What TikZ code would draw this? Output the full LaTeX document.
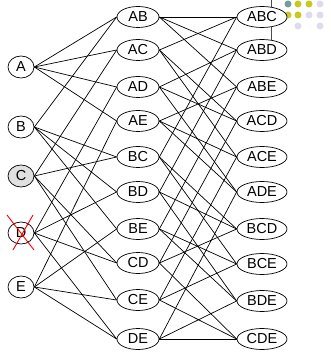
\documentclass[tikz,border=0pt]{standalone}
\usepackage{fontspec}
\setmainfont{Liberation Sans}
\usetikzlibrary{shapes.geometric}
\definecolor{dteal}{HTML}{6F9E9B}
\definecolor{dyel}{HTML}{C8C81E}
\definecolor{dlav}{HTML}{DCDCEE}
\definecolor{cgrey}{HTML}{E0E0E0}
\begin{document}
\begin{tikzpicture}[x=1pt,y=-1pt,
  base/.style={ellipse,draw,line width=0.7pt,inner sep=0pt,font=\fontsize{14.5}{14.5}\selectfont,fill=white},
  lnode/.style={base,minimum width=26pt,minimum height=22pt},
  mnode/.style={base,minimum width=42pt,minimum height=21pt},
  rnode/.style={base,minimum width=50pt,minimum height=21pt},
  edge/.style={line width=0.7pt},
  dot/.style={circle,inner sep=0pt,minimum size=7pt}]
\useasboundingbox (0,0) rectangle (330,352);
% decoration top right
\coordinate (v0) at (271,0);
\node[dot,fill=dteal] (d1) at (288,4) {};
\node[dot,fill=dyel] (d2) at (298,4) {};
\node[dot,fill=dyel] (d3) at (309,4) {};
\node[dot,fill=dlav] (d4) at (320,4) {};
\node[dot,fill=dyel] (d5) at (288,15) {};
\node[dot,fill=dyel] (d6) at (298,15) {};
\node[dot,fill=dlav] (d7) at (309,15) {};
\node[dot,fill=dlav] (d8) at (320,15) {};
\node[dot,fill=dlav] (d9) at (298,26) {};
\node[dot,fill=dlav] (d10) at (320,26) {};
\draw[line width=0.7pt,black!70] (v0) -- (271,50);
% edges first
\foreach \n/\y in {A/67,B/127,C/176,D/233,E/287} \coordinate (\n) at (21,\y);
\foreach \n/\y in {AB/17,AC/50,AD/87,AE/121,BC/157,BD/192,BE/229,CD/263,CE/300,DE/339} \coordinate (\n) at (138,\y);
\foreach \n/\y in {ABC/17,ABD/50,ABE/87,ACD/121,ACE/157,ADE/192,BCD/229,BCE/264,BDE/301,CDE/339} \coordinate (\n) at (262,\y);
% nodes
\node[lnode] (nA) at (A) {A};
\node[lnode] (nB) at (B) {B};
\node[lnode,fill=cgrey] (nC) at (C) {C};
\node[lnode] (nD) at (D) {D};
\node[lnode] (nE) at (E) {E};
\foreach \n in {AB,AC,AD,AE,BC,BD,BE,CD,CE,DE} \node[mnode] (n\n) at (\n) {\n};
\foreach \n in {ABC,ABD,ABE,ACD,ACE,ADE,BCD,BCE,BDE,CDE} \node[rnode] (n\n) at (\n) {\n};
\foreach \a/\b in {A/AB,A/AC,A/AD,A/AE,B/AB,B/BC,B/BD,B/BE,C/AC,C/BC,C/CD,C/CE,D/AD,D/BD,D/CD,D/DE,E/AE,E/BE,E/CE,E/DE}
  \draw[edge] (n\a.east) -- (n\b.west);
\foreach \a/\b in {AB/ABC,AC/ABC,BC/ABC,AB/ABD,AD/ABD,BD/ABD,AB/ABE,AE/ABE,BE/ABE,AC/ACD,AD/ACD,CD/ACD,AC/ACE,AE/ACE,CE/ACE,AD/ADE,AE/ADE,DE/ADE,BC/BCD,BD/BCD,CD/BCD,BC/BCE,BE/BCE,CE/BCE,BD/BDE,BE/BDE,DE/BDE,CD/CDE,CE/CDE,DE/CDE}
  \draw[edge] (n\a.east) -- (n\b.west);
% red cross over D
\coordinate (x1) at (7,215);
\coordinate (x2) at (34,250);
\coordinate (x3) at (33,215);
\coordinate (x4) at (13,250);
\draw[red,line width=0.9pt] (x1) -- (x2);
\draw[red,line width=0.9pt] (x3) -- (x4);
\end{tikzpicture}
\end{document}
